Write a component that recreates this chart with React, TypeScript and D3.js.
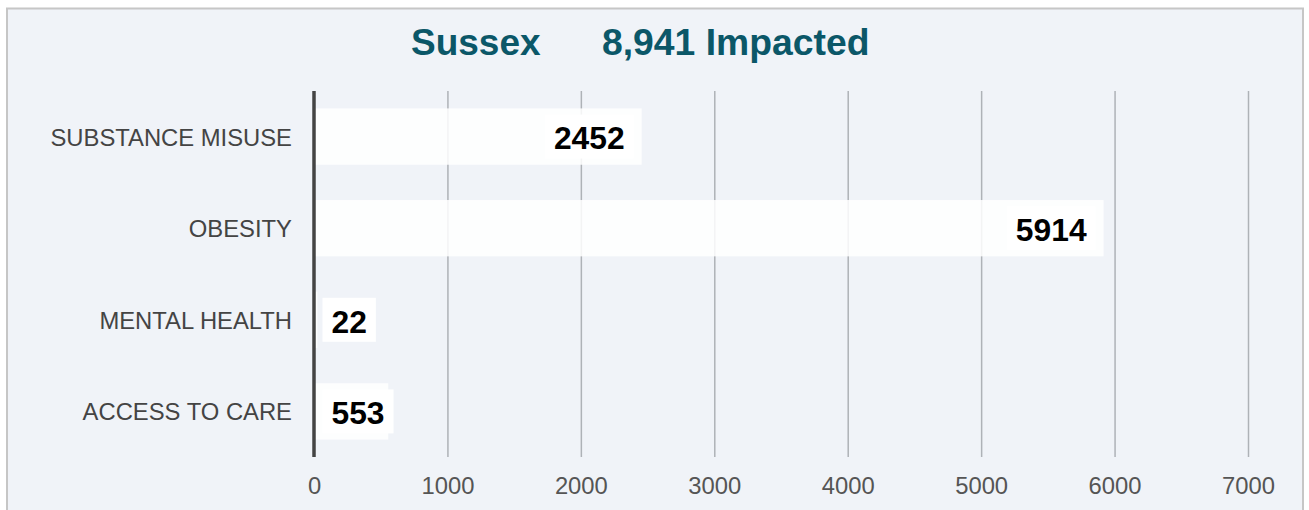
import React from "react";
import * as d3 from "d3";

const categories = ["SUBSTANCE MISUSE", "OBESITY", "MENTAL HEALTH", "ACCESS TO CARE"];
const values = [2452, 5914, 22, 553];
const xTicks = [0, 1000, 2000, 3000, 4000, 5000, 6000, 7000];
const titleRegion = "Sussex";
const titleImpacted = "8,941 Impacted";

const W = 1309;
const H = 510;
const FONT = "'Liberation Sans', Arial, Helvetica, sans-serif";

export default function App() {
  const x = d3.scaleLinear().domain([0, 7000]).range([314.5, 1248.5]);
  const y = d3.scaleBand<string>().domain(categories).range([91, 457]).paddingInner(0.385).paddingOuter(0.19);
  const valFont = 31.8;
  const digitW = 0.556 * valFont;
  return (
    <svg width={W} height={H} style={{ position: "absolute", left: 0, top: 0 }} xmlns="http://www.w3.org/2000/svg">
      <rect x={0} y={0} width={W} height={H} fill="#ffffff" />
      <rect x={7} y={8.5} width={1296} height={H} fill="#f0f3f8" stroke="#c6c6c6" strokeWidth={2} />
      <text x={411} y={55} fontFamily={FONT} fontWeight="bold" fontSize={37} fill="#0b5768">{titleRegion}</text>
      <text x={602} y={55} fontFamily={FONT} fontWeight="bold" fontSize={37.3} fill="#0b5768">{titleImpacted}</text>
      {xTicks.slice(1).map((t) => (
        <line key={"g" + t} x1={x(t)} x2={x(t)} y1={91} y2={457} stroke="#aeb2b7" strokeWidth={1.5} />
      ))}
      {xTicks.map((t) => (
        <text key={"t" + t} x={x(t)} y={494} textAnchor="middle" fontFamily={FONT} fontSize={23.8} fill="#555">{t}</text>
      ))}
      {categories.map((c, i) => {
        const by = y(c)!;
        const bh = y.bandwidth();
        const bw = x(values[i]) - x(0);
        const label = String(values[i]);
        const tw = label.length * digitW;
        const boxW = tw + 18;
        const fits = bw >= boxW + 16;
        const boxX = fits ? x(values[i]) - 8 - boxW : x(0) + 8;
        const cy = by + bh / 2;
        return (
          <g key={c}>
            <rect x={x(0)} y={by} width={bw} height={bh} fill="#ffffff" fillOpacity={0.85} />
            <rect x={boxX} y={cy - 22} width={boxW} height={44} fill="#ffffff" />
            <text x={boxX + 9} y={cy + 12.8} fontFamily={FONT} fontWeight="bold" fontSize={valFont} fill="#000">{label}</text>
            <text x={292} y={cy + 9} textAnchor="end" fontFamily={FONT} fontSize={23.8} fill="#444">{c}</text>
          </g>
        );
      })}
      <line x1={314} x2={314} y1={91} y2={457} stroke="#444" strokeWidth={3.5} />
    </svg>
  );
}
